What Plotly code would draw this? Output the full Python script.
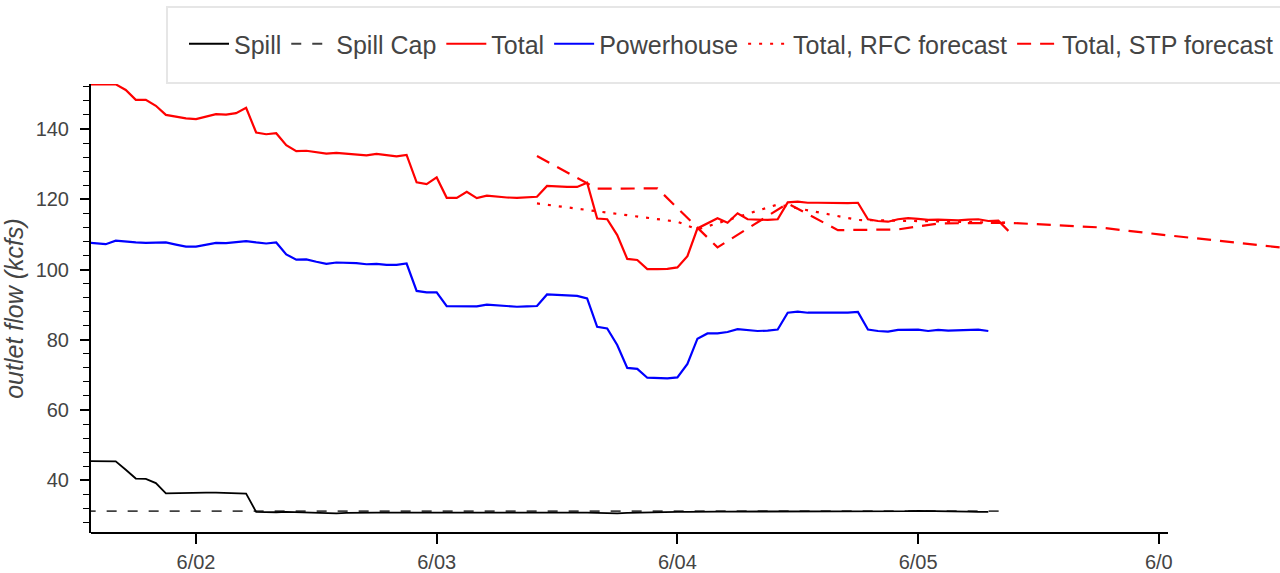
import pandas as pd
import plotly.graph_objects as go

# ---------------- data ----------------
obs_start = "2021-06-01 13:00"

total = [
    # 6/01 13:00 .. 23:00
    152.7, 152.7, 152.7, 152.7, 151.1, 148.3, 148.3, 146.6, 144.0, 143.5, 143.0,
    # 6/02
    142.8, 143.5, 144.2, 144.1, 144.5, 146.0, 139.0, 138.5, 138.8, 135.4, 133.7, 133.8,
    133.4, 133.0, 133.2, 132.9, 132.7, 132.5, 132.9, 132.5, 132.2, 132.6, 124.8, 124.3,
    # 6/03
    126.2, 120.4, 120.4, 122.1, 120.3, 121.0, 120.7, 120.5, 120.4, 120.5, 120.7, 123.8,
    123.6, 123.5, 123.5, 124.7, 114.5, 114.3, 109.8, 103.0, 102.7, 100.1, 100.1, 100.2,
    # 6/04
    100.6, 103.8, 111.7, 113.1, 114.6, 113.3, 116.0, 114.3, 114.1, 114.1, 114.3, 119.1,
    119.3, 119.0, 119.0, 118.9, 119.0, 118.9, 119.0, 114.3, 113.8, 113.6, 114.3, 114.6,
    # 6/05 00:00 .. 09:00
    114.4, 114.1, 114.2, 114.1, 114.0, 114.2, 114.3, 113.8, 113.9, 111.0,
]

powerhouse = [
    107.7, 107.5, 107.2, 108.2, 107.9, 107.7, 107.6, 107.6, 107.7, 107.1, 106.5,
    106.5, 107.1, 107.6, 107.5, 107.9, 108.1, 107.7, 107.4, 107.7, 104.3, 102.8, 102.9,
    102.2, 101.6, 102.0, 102.0, 101.8, 101.5, 101.6, 101.3, 101.3, 101.7, 93.9, 93.5,
    93.5, 89.6, 89.6, 89.6, 89.5, 90.0, 89.8, 89.6, 89.4, 89.5, 89.6, 92.9,
    92.7, 92.7, 92.5, 91.8, 83.7, 83.2, 78.5, 72.0, 71.7, 69.2, 69.1, 69.0,
    69.3, 73.1, 80.3, 81.8, 81.8, 82.2, 83.0, 82.7, 82.5, 82.6, 82.9, 87.7,
    88.0, 87.7, 87.7, 87.7, 87.5, 87.7, 87.9, 82.9, 82.5, 82.3, 82.8, 82.9,
    82.9, 82.5, 82.8, 82.6, 82.7, 82.8, 82.9, 82.5,
]

spill = [
    45.5, 45.5, 45.5, 45.4, 43.0, 40.5, 40.4, 39.2, 36.3, 36.4, 36.5,
    36.5, 36.5, 36.5, 36.4, 36.3, 36.2, 31.0, 30.9, 30.9, 31.0, 30.9, 30.9,
    30.8, 30.7, 30.6, 30.7, 30.8, 30.8, 30.8, 30.8, 30.8, 30.9, 30.8, 30.8,
    30.8, 30.8, 30.9, 30.8, 30.9, 30.9, 30.8, 30.9, 30.9, 30.9, 30.9, 31.0,
    31.0, 30.9, 30.9, 30.8, 30.7, 30.6, 30.6, 30.7, 30.8, 30.9, 31.0, 31.0,
    31.0, 31.0, 31.1, 31.1, 31.1, 31.1, 31.1, 31.1, 31.0, 31.0, 31.0, 31.0,
    31.0, 31.0, 31.0, 31.0, 31.0, 31.1, 31.1, 31.1, 31.1, 31.1, 31.2, 31.2,
    31.3, 31.3, 31.2, 31.1, 31.1, 31.1, 31.0, 31.0,
]

spill_cap_times = ["2021-06-01 13:00", "2021-06-05 09:00"]
spill_cap = [31.2, 31.2]

rfc_times = ["2021-06-03 10:00", "2021-06-04 00:00", "2021-06-04 02:00",
             "2021-06-04 10:00", "2021-06-04 18:00", "2021-06-05 00:00",
             "2021-06-05 09:00"]
rfc = [118.8, 113.6, 111.4, 118.5, 114.1, 113.7, 113.3]

stp_times = ["2021-06-03 10:00", "2021-06-03 15:00", "2021-06-03 16:00",
             "2021-06-03 22:00", "2021-06-04 04:00", "2021-06-04 11:00",
             "2021-06-04 16:00", "2021-06-04 22:00", "2021-06-05 02:00",
             "2021-06-05 09:00", "2021-06-05 18:00", "2021-06-06 00:00",
             "2021-06-06 06:00", "2021-06-06 12:00", "2021-06-06 18:00"]
stp = [132.3, 124.7, 123.0, 123.1, 106.3, 118.8, 111.2, 111.4, 113.1,
       113.3, 112.0, 110.0, 108.2, 106.3, 104.5]

tick_dates = ["2021-06-02", "2021-06-03", "2021-06-04", "2021-06-05", "2021-06-06"]
tick_labels = ["6/02", "6/03", "6/04", "6/05", "6/0"]
y_ticks = [40, 60, 80, 100, 120, 140]

# ---------------- figure ----------------
def hourly(n):
    return pd.date_range(obs_start, periods=n, freq="h")

TXT = "#444444"
FONT = "Liberation Sans, Arial, Helvetica, sans-serif"

fig = go.Figure()
fig.add_trace(go.Scatter(x=hourly(len(spill)), y=spill, mode="lines", name="Spill",
                         line=dict(color="black", width=1.8)))
fig.add_trace(go.Scatter(x=pd.to_datetime(spill_cap_times), y=spill_cap, mode="lines",
                         name="Spill Cap",
                         line=dict(color="rgba(0,0,0,0.75)", width=1.8, dash="10px,11px")))
fig.add_trace(go.Scatter(x=hourly(len(total)), y=total, mode="lines", name="Total",
                         line=dict(color="#ff0000", width=2.2)))
fig.add_trace(go.Scatter(x=hourly(len(powerhouse)), y=powerhouse, mode="lines",
                         name="Powerhouse", line=dict(color="#0000ff", width=2.2)))
fig.add_trace(go.Scatter(x=pd.to_datetime(rfc_times), y=rfc, mode="lines",
                         name="Total, RFC forecast",
                         line=dict(color="#ff0000", width=2.2, dash="3px,8px")))
fig.add_trace(go.Scatter(x=pd.to_datetime(stp_times), y=stp, mode="lines",
                         name="Total, STP forecast",
                         line=dict(color="#ff0000", width=2.2, dash="14px,9px")))

L, R, T, B = 91, 0, 84, 40
W, H = 1280, 573
pw = W - L - R
ph = H - T - B

fig.update_layout(
    width=W, height=H,
    margin=dict(l=L, r=R, t=T, b=B, pad=0, autoexpand=False),
    paper_bgcolor="white", plot_bgcolor="white",
    font=dict(family=FONT, color=TXT),
    showlegend=True,
    legend=dict(orientation="h", x=(184 - L) / pw, xanchor="left",
                y=1 + (T - 44) / ph, yanchor="middle",
                font=dict(size=25, color=TXT, family=FONT),
                bgcolor="rgba(0,0,0,0)", borderwidth=0, itemwidth=40,
                tracegroupgap=0),
    xaxis=dict(range=["2021-06-01 13:32", "2021-06-06 12:05"],
               tickvals=pd.to_datetime(tick_dates), ticktext=tick_labels,
               showgrid=False, zeroline=False, showline=False, automargin=False,
               ticks="outside", ticklen=10, tickwidth=1.5, tickcolor="black",
               tickfont=dict(size=20, color=TXT), ticklabelstandoff=1),
    yaxis=dict(range=[25, 152.8], tickvals=y_ticks, automargin=False,
               showgrid=False, zeroline=False, showline=True, linecolor="black",
               linewidth=2, ticks="outside", ticklen=9, tickwidth=1.5,
               tickcolor="black", tickfont=dict(size=20, color=TXT),
               ticklabelstandoff=7,
               minor=dict(ticks="outside", ticklen=6, dtick=4, tick0=0,
                          tickcolor="black", tickwidth=1.2),
               title=dict(text="outlet flow (kcfs)",
                          font=dict(size=25, color=TXT, family=FONT, style="italic"),
                          standoff=12)),
)

# x-axis baseline (stops short of the right edge as in the reference)
fig.add_shape(type="line", xref="paper", yref="paper",
              x0=0, x1=(1168 - L) / pw, y0=0, y1=0,
              line=dict(color="black", width=2))
# legend frame
fig.add_shape(type="rect", xref="paper", yref="paper",
              x0=(167 - L) / pw, x1=1.02, y0=1 + (T - 83) / ph, y1=1 + (T - 7) / ph,
              line=dict(color="#e6e6e6", width=2), fillcolor="rgba(0,0,0,0)",
              layer="below")

fig.write_html("out.html", config={"displayModeBar": False},
               post_script="document.body.style.margin='0px';")
